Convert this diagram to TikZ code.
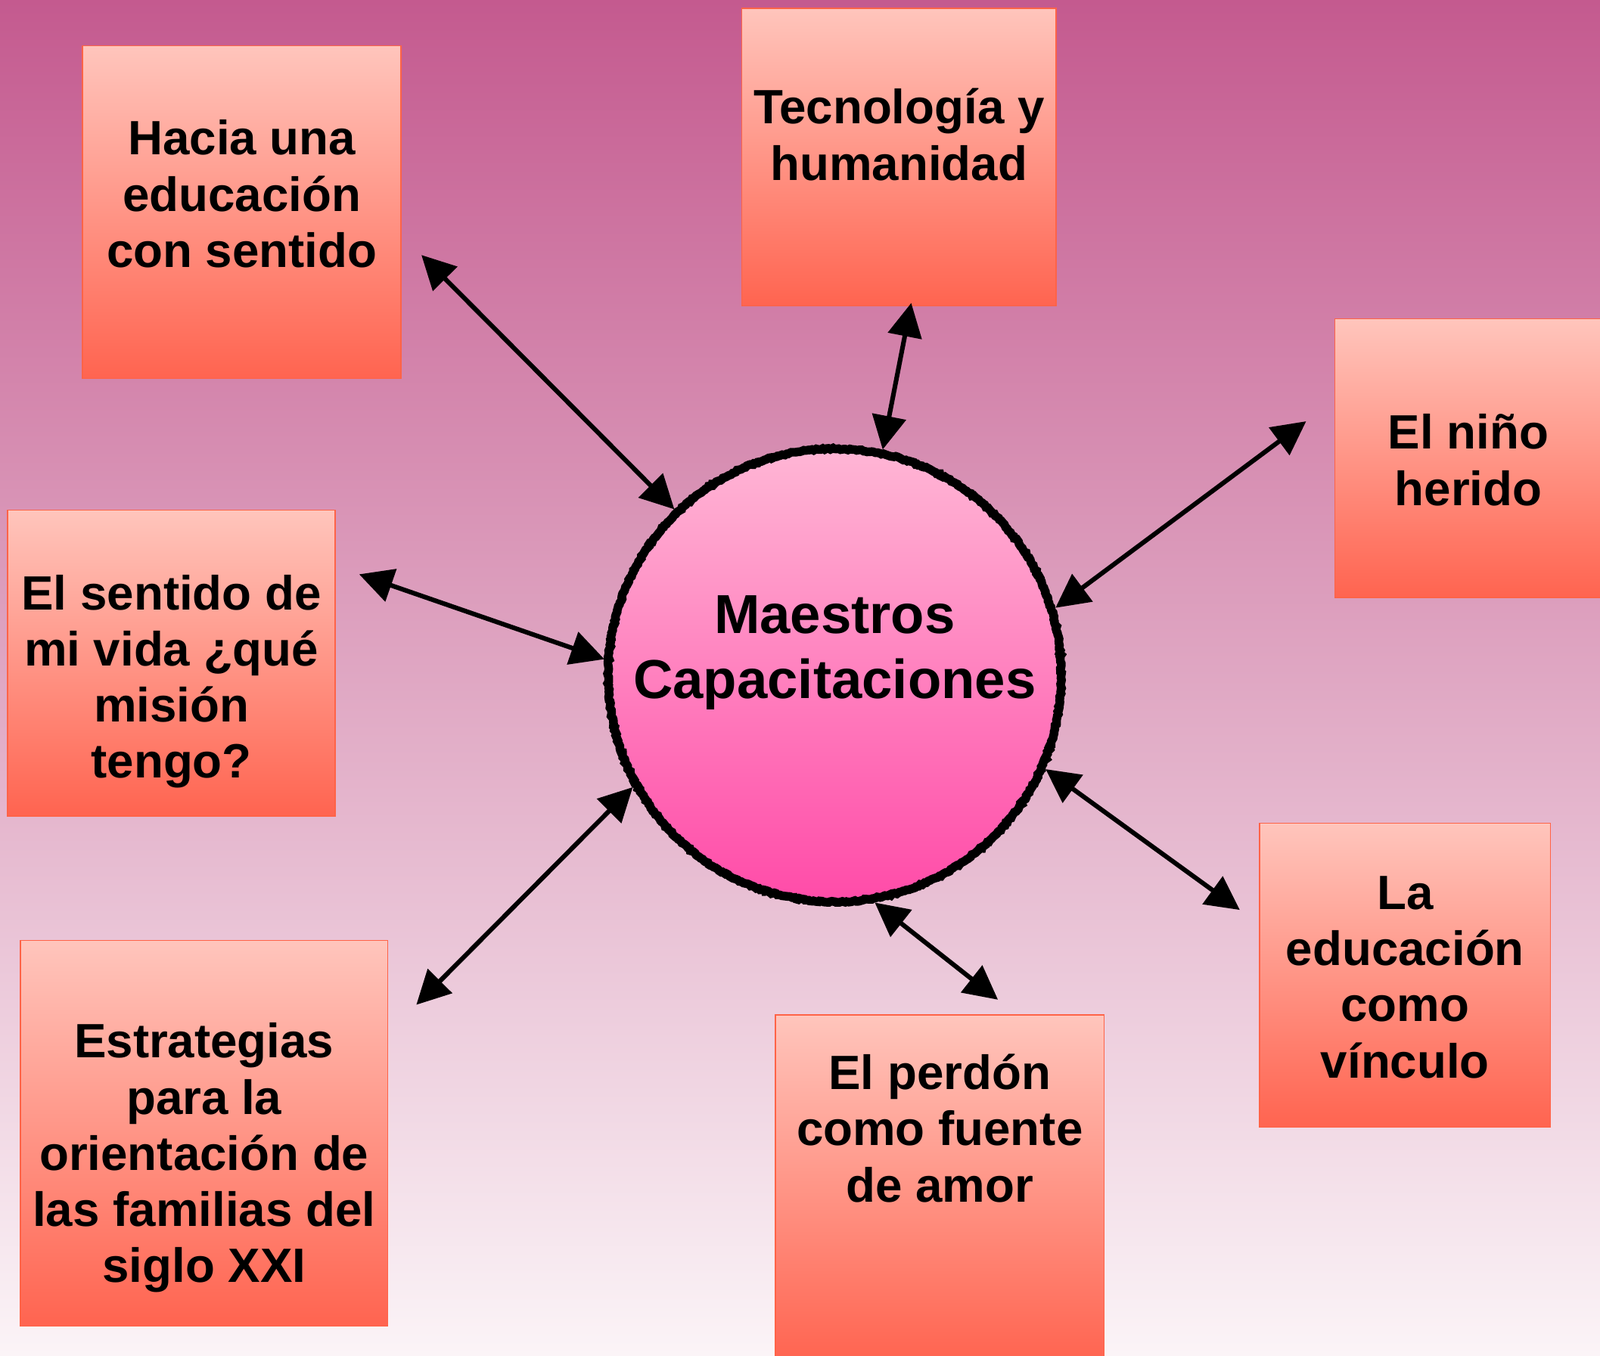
\documentclass[tikz,border=0pt]{standalone}
\usepackage{fontspec}
\setmainfont{Liberation Sans}
\usetikzlibrary{arrows.meta,decorations.pathmorphing}

\begin{document}
\begin{tikzpicture}[x=1pt,y=1pt,
  box/.style={rectangle,draw=boxLine,line width=1.2pt,top color=boxTop,bottom color=boxBottom,inner sep=0pt},
  boxtext/.style={align=center,inner sep=0pt,font=\bfseries\fontsize{47.2}{55}\selectfont},
  hub/.style={circle,draw=black,line width=8.5pt,minimum size=444pt,inner sep=0pt,top color=hubTop,bottom color=hubBottom,decorate,decoration={random steps,segment length=2pt,amplitude=0.8pt}},
  hubtext/.style={align=center,inner sep=0pt,font=\bfseries\fontsize{53.8}{64}\selectfont},
  link/.style={draw=black,line width=4.5pt,{Triangle[length=33pt,width=33pt]}-{Triangle[length=33pt,width=33pt]}}]
\definecolor{bgTop}{RGB}{196,90,143}
\definecolor{bgBottom}{RGB}{251,244,247}
\definecolor{boxTop}{RGB}{255,197,188}
\definecolor{boxBottom}{RGB}{255,100,80}
\definecolor{boxLine}{RGB}{255,99,71}
\definecolor{hubTop}{RGB}{255,182,213}
\definecolor{hubBottom}{RGB}{255,75,168}

\useasboundingbox (0,0) rectangle (1568,1329);
\clip (0,0) rectangle (1568,1329);

\fill[top color=bgTop,bottom color=bgBottom] (0,0) rectangle (1568,1329);

\node[box,minimum width=312pt,minimum height=326pt] (eduBox) at (237,1121) {};
\node[boxtext] (eduText) at (237,1139) {Hacia una\\educación\\con sentido};

\node[box,minimum width=308pt,minimum height=292pt] (tecBox) at (881,1175) {};
\node[boxtext] (tecText) at (881,1197) {Tecnología y\\humanidad};

\node[box,minimum width=262pt,minimum height=273pt] (ninoBox) at (1439,880) {};
\node[boxtext] (ninoText) at (1439,878) {El niño\\herido};

\node[box,minimum width=321pt,minimum height=300pt] (vidaBox) at (168,679) {};
\node[boxtext] (vidaText) at (168,661) {El sentido de\\mi vida ¿qué\\misión\\tengo?};

\node[box,minimum width=360pt,minimum height=378pt] (famBox) at (200,218) {};
\node[boxtext] (famText) at (200,194) {Estrategias\\para la\\orientación de\\las familias del\\siglo XXI};

\node[box,minimum width=322pt,minimum height=340pt] (perdonBox) at (921,164) {};
\node[boxtext] (perdonText) at (921,223) {El perdón\\como fuente\\de amor};

\node[box,minimum width=285pt,minimum height=298pt] (vincBox) at (1377,373) {};
\node[boxtext] (vincText) at (1377,371) {La\\educación\\como\\vínculo};

\node[hub] (hub) at (818,667) {};
\node[hubtext] (hubText) at (818,689) {Maestros\\Capacitaciones};

\coordinate (eduEnd) at (413,1079);
\coordinate (tecEnd) at (893,1032);
\coordinate (ninoEnd) at (1280,916);
\coordinate (vidaEnd) at (352,766);
\coordinate (famEnd) at (408,344);
\coordinate (perdonEnd) at (978,349);
\coordinate (vincEnd) at (1215,437);

\draw[link] (eduEnd) -- (hub.134);

\draw[link] (tecEnd) -- (hub.78);

\draw[link] (ninoEnd) -- (hub.17);

\draw[link] (vidaEnd) -- (hub.176);

\draw[link] (famEnd) -- (hub.209);

\draw[link] (perdonEnd) -- (hub.280);

\draw[link] (vincEnd) -- (hub.336);
\end{tikzpicture}
\end{document}
